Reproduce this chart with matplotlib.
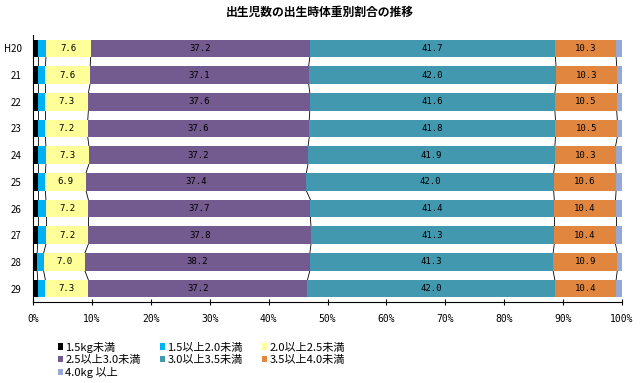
import numpy as np
import matplotlib.pyplot as plt

plt.rcParams['font.family'] = ['Noto Sans CJK JP', 'DejaVu Sans']

years = ['H20', '21', '22', '23', '24', '25', '26', '27', '28', '29']
series_names = ['1.5kg未満', '1.5以上2.0未満', '2.0以上2.5未満', '2.5以上3.0未満',
                '3.0以上3.5未満', '3.5以上4.0未満', '4.0kg 以上']
under15 = [0.8, 0.8, 0.8, 0.8, 0.8, 0.8, 0.8, 0.8, 0.7, 0.8]
w15_20 = [1.4, 1.3, 1.3, 1.3, 1.4, 1.3, 1.4, 1.4, 1.1, 1.3]
w20_25 = [7.6, 7.6, 7.3, 7.2, 7.3, 6.9, 7.2, 7.2, 7.0, 7.3]
w25_30 = [37.2, 37.1, 37.6, 37.6, 37.2, 37.4, 37.7, 37.8, 38.2, 37.2]
w30_35 = [41.7, 42.0, 41.6, 41.8, 41.9, 42.0, 41.4, 41.3, 41.3, 42.0]
w35_40 = [10.3, 10.3, 10.5, 10.5, 10.3, 10.6, 10.4, 10.4, 10.9, 10.4]
over40 = [1.0, 0.9, 0.9, 0.8, 1.1, 1.0, 1.1, 1.1, 0.8, 1.0]

colors = ['#000000', '#00B0F0', '#FFFF99', '#735A8F', '#4198AF', '#E0863E', '#95A9D3']
data = [under15, w15_20, w20_25, w25_30, w30_35, w35_40, over40]
labeled = [2, 3, 4, 5]

fig = plt.figure(figsize=(6.4, 3.83), dpi=100)
ax = fig.add_axes([33 / 640, 1 - 302 / 383, 589 / 640, 267 / 383])

y = np.arange(len(years))
h = 0.66
left = np.zeros(len(years))
bars = []
for i, (vals, c) in enumerate(zip(data, colors)):
    vals = np.array(vals)
    b = ax.barh(y, vals, left=left, height=h, color=c, label=series_names[i], zorder=2)
    bars.append(b)
    if i in labeled:
        for yy, l, v in zip(y, left, vals):
            ax.text(l + v / 2, yy, f'{v:.1f}', ha='center', va='center',
                    fontsize=6.5, family='DejaVu Sans Mono', zorder=3)
    left = left + vals
    # series lines between bars
    if i < len(data) - 1:
        for k in range(len(years) - 1):
            ax.plot([left[k], left[k + 1]], [y[k] + h / 2, y[k + 1] - h / 2],
                    color='black', lw=0.6, zorder=1)

ax.set_xlim(0, 100)
ax.set_ylim(len(years) - 0.5, -0.5)
ax.set_yticks(y)
ax.set_yticklabels(years, fontsize=7)
ax.tick_params(axis='y', length=0, pad=8)
ax.set_xticks(np.arange(0, 101, 10))
ax.set_xticklabels([f'{t}%' for t in range(0, 101, 10)], fontsize=7, family='DejaVu Sans Mono')
ax.tick_params(axis='x', direction='inout', length=5, width=0.8, pad=6)
for s in ['top', 'right']:
    ax.spines[s].set_visible(False)
ax.spines['left'].set_linewidth(0.8)
ax.spines['bottom'].set_linewidth(0.8)

fig.suptitle('出生児数の出生時体重別割合の推移', fontsize=8.5, fontweight='bold', y=0.985)

# row-major legend order with ncol=3
order = [0, 3, 6, 1, 4, 2, 5]
fig.legend([bars[i] for i in order], [series_names[i] for i in order],
           loc='upper left', bbox_to_anchor=(52 / 640, 1 - 336 / 383), ncol=3,
           fontsize=8, frameon=False, handlelength=0.5, handleheight=0.5,
           handletextpad=0.2, columnspacing=1.7, labelspacing=0.2, borderpad=0)

fig.savefig('out.png', dpi=100)
